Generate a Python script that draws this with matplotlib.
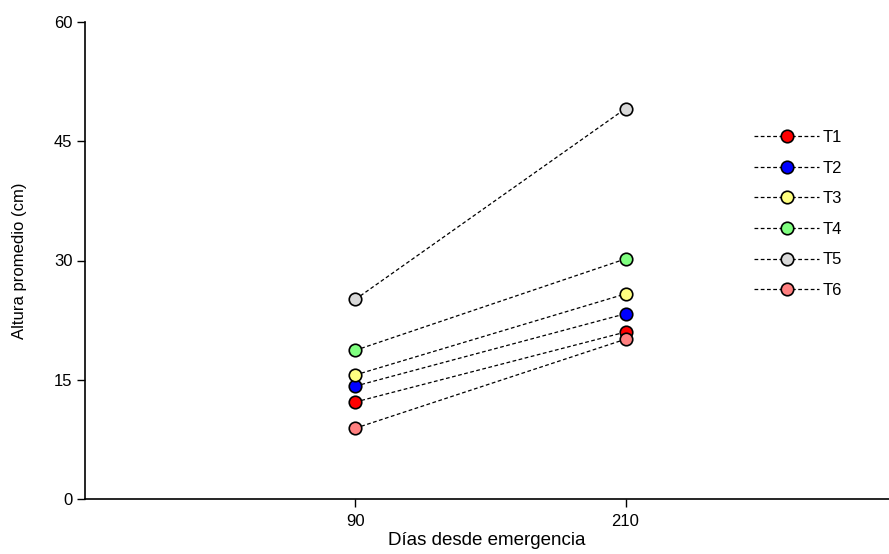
import matplotlib
matplotlib.use("Agg")
import matplotlib.pyplot as plt

plt.rcParams['font.family'] = ['Liberation Sans', 'DejaVu Sans']

days = [90, 210]
series_names = ["T1", "T2", "T3", "T4", "T5", "T6"]
t1 = [12.2, 21.0]
t2 = [14.2, 23.3]
t3 = [15.6, 25.8]
t4 = [18.7, 30.2]
t5 = [25.1, 49.1]
t6 = [8.9, 20.1]
series_values = [t1, t2, t3, t4, t5, t6]
colors = ["#FF0000", "#0000FF", "#FFFF80", "#80FF80", "#D9D9D9", "#FF8080"]
yticks = [0, 15, 30, 45, 60]
xticks = [90, 210]

fig = plt.figure(figsize=(8.89, 5.54), dpi=100)
ax = fig.add_axes([85/889, 1 - 499/554, 1 - 85/889, (499 - 22)/554])

for name, vals, c in zip(series_names, series_values, colors):
    ax.plot(days, vals, linestyle=(0, (3, 2)), color="black", linewidth=0.9,
            marker="o", markersize=9, markerfacecolor=c, markeredgecolor="black",
            markeredgewidth=1.2, label=name)

ax.set_xlim(-30, 327)
ax.set_ylim(0, 60)
ax.set_xticks(xticks)
ax.set_yticks(yticks)
ax.tick_params(direction="out", length=6, width=1, labelsize=12)
ax.tick_params(axis="x", pad=5)
ax.tick_params(axis="y", pad=3)
for s in ["top", "right"]:
    ax.spines[s].set_visible(False)
for s in ["left", "bottom"]:
    ax.spines[s].set_linewidth(1.2)

ax.set_xlabel("Días desde emergencia", fontsize=13.5, labelpad=2)
ax.set_ylabel("Altura promedio (cm)", fontsize=12)
ax.yaxis.set_label_coords(-0.072, 0.5)

leg = ax.legend(frameon=False, loc="upper left", bbox_to_anchor=(746/889, 1 - 122/554),
                bbox_transform=fig.transFigure, fontsize=12, handlelength=3.9,
                handletextpad=0.2, labelspacing=0.93, borderpad=0)

fig.savefig("out.png", dpi=100)
